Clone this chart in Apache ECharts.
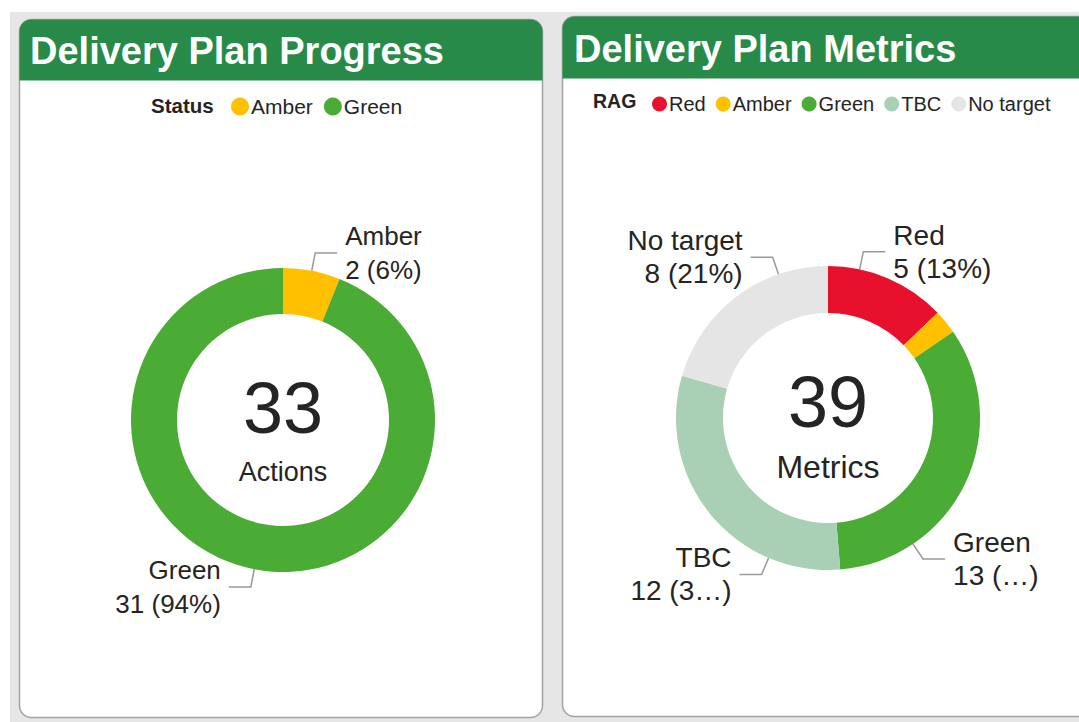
<!DOCTYPE html>
<html>
<head>
<meta charset="utf-8">
<script src="https://cdn.jsdelivr.net/npm/echarts@6/dist/echarts.min.js"></script>
<style>
html,body{margin:0;padding:0;background:#ffffff;}
#chart{width:1079px;height:722px;}
</style>
</head>
<body>
<div id="chart"></div>
<script>
// ---- data ----
const progressTitle = 'Delivery Plan Progress';
const progressLegendTitle = 'Status';
const progressCategories = ['Amber', 'Green'];
const progressValues = [2, 31];
const progressUnit = 'Actions';

const metricsTitle = 'Delivery Plan Metrics';
const metricsLegendTitle = 'RAG';
const metricsCategories = ['Red', 'Amber', 'Green', 'TBC', 'No target'];
const metricsValues = [5, 1, 13, 12, 8];
const metricsUnit = 'Metrics';
// number of percent characters shown before the label is truncated (null = full)
const metricsPctKeep = [null, null, 0, 1, null];
const metricsLabelShown = [true, false, true, true, true];

// ---- styles / layout ----
const FONT = '"Liberation Sans", Arial, sans-serif';
const TEXT = '#252423';
const HEADER = '#288a48';
const colorMap = {
  'Red': '#e8112d',
  'Amber': '#ffc000',
  'Green': '#4aab35',
  'TBC': '#a9cfb4',
  'No target': '#e5e5e5'
};
const L = { cx: 283, cy: 420, r0: 106, r1: 152 };
const Rt = { cx: 828, cy: 418, r0: 105, r1: 152 };
// label anchor angles (degrees clockwise from 12 o'clock) for the right chart
const metricsLabelAngles = [12, null, 146, 203, 341];

function sum(a) { return a.reduce((s, v) => s + v, 0); }
const progressTotal = sum(progressValues);
const metricsTotal = sum(metricsValues);

function midAngles(values) {
  const t = sum(values); let acc = 0;
  return values.map(v => { const m = (acc + v / 2) / t * 360; acc += v; return m; });
}
const progressLabelAngles = midAngles(progressValues);

function makeLabelLayout(g, angles) {
  return function (p) {
    const a = angles[p.dataIndex];
    if (a == null) return {};
    const t = a * Math.PI / 180, s = Math.sin(t), c = Math.cos(t);
    const p0 = [g.cx + g.r1 * s, g.cy - g.r1 * c];
    const p1 = [g.cx + (g.r1 + 18) * s, g.cy - (g.r1 + 18) * c];
    const dir = s >= 0 ? 1 : -1;
    const p2 = [p1[0] + dir * 22, p1[1]];
    return {
      x: p2[0] + dir * 8,
      y: p2[1],
      align: dir > 0 ? 'left' : 'right',
      verticalAlign: 'middle',
      labelLinePoints: [p0, p1, p2]
    };
  };
}

function pct(v, total) { return Math.round(v / total * 100) + '%'; }

function labelStyle(size, lh) {
  return { show: true, position: 'outside', fontFamily: FONT, fontSize: size, lineHeight: lh, color: TEXT };
}
const lineStyle = { show: true, length: 18, length2: 22, lineStyle: { color: '#9a9a9a', width: 1.5 } };

const chart = echarts.init(document.getElementById('chart'), null, { renderer: 'svg' });

const option = {
  animation: false,
  backgroundColor: '#ffffff',
  legend: [
    {
      data: progressCategories,
      left: 231, top: 96,
      padding: 0,
      icon: 'circle', itemWidth: 18, itemHeight: 18, itemGap: 11,
      selectedMode: false,
      textStyle: { fontFamily: FONT, fontSize: 21, color: TEXT, padding: [0, 0, 0, -3] }
    },
    {
      data: metricsCategories,
      left: 652, top: 94,
      padding: 0,
      icon: 'circle', itemWidth: 15, itemHeight: 15, itemGap: 10,
      selectedMode: false,
      textStyle: { fontFamily: FONT, fontSize: 20, color: TEXT, padding: [0, 0, 0, -3] }
    }
  ],
  graphic: [
    { type: 'rect', silent: true, z: -10, shape: { x: 10, y: 12, width: 1100, height: 720 }, style: { fill: '#e6e6e6' } },
    // left panel
    { type: 'rect', silent: true, z: -5, shape: { x: 19.5, y: 19.5, width: 523, height: 698, r: 12 }, style: { fill: '#ffffff', stroke: '#a3a3a3', lineWidth: 1.5 } },
    { type: 'rect', silent: true, z: -4, shape: { x: 19.5, y: 19.5, width: 523, height: 61, r: [12, 12, 0, 0] }, style: { fill: HEADER } },
    { type: 'text', silent: true, style: { text: progressTitle, x: 30, y: 51, verticalAlign: 'middle', fill: '#ffffff', font: 'bold 38px ' + FONT } },
    { type: 'text', silent: true, style: { text: progressLegendTitle, x: 151, y: 105, verticalAlign: 'middle', fill: TEXT, font: 'bold 20.5px ' + FONT } },
    { type: 'text', silent: true, style: { text: String(progressTotal), x: L.cx, y: 408, align: 'center', verticalAlign: 'middle', fill: TEXT, font: '72px ' + FONT } },
    { type: 'text', silent: true, style: { text: progressUnit, x: L.cx, y: 472, align: 'center', verticalAlign: 'middle', fill: TEXT, font: '27px ' + FONT } },
    // right panel
    { type: 'rect', silent: true, z: -5, shape: { x: 562.5, y: 16.5, width: 540, height: 700, r: 12 }, style: { fill: '#ffffff', stroke: '#a3a3a3', lineWidth: 1.5 } },
    { type: 'rect', silent: true, z: -4, shape: { x: 562.5, y: 16.5, width: 540, height: 62, r: [12, 12, 0, 0] }, style: { fill: HEADER } },
    { type: 'text', silent: true, style: { text: metricsTitle, x: 574, y: 49, verticalAlign: 'middle', fill: '#ffffff', font: 'bold 38px ' + FONT } },
    { type: 'text', silent: true, style: { text: metricsLegendTitle, x: 593, y: 101, verticalAlign: 'middle', fill: TEXT, font: 'bold 19.5px ' + FONT } },
    { type: 'text', silent: true, style: { text: String(metricsTotal), x: Rt.cx, y: 402, align: 'center', verticalAlign: 'middle', fill: TEXT, font: '72px ' + FONT } },
    { type: 'text', silent: true, style: { text: metricsUnit, x: Rt.cx, y: 467, align: 'center', verticalAlign: 'middle', fill: TEXT, font: '32px ' + FONT } }
  ],
  series: [
    {
      type: 'pie',
      center: [L.cx, L.cy],
      radius: [L.r0, L.r1],
      startAngle: 90,
      clockwise: true,
      avoidLabelOverlap: false,
      emphasis: { disabled: true },
      itemStyle: { borderWidth: 0 },
      label: Object.assign(labelStyle(26, 34), {
        formatter: p => p.name + '\n' + p.value + ' (' + pct(p.value, progressTotal) + ')'
      }),
      labelLine: lineStyle,
      labelLayout: makeLabelLayout(L, progressLabelAngles),
      data: progressCategories.map((n, i) => ({ name: n, value: progressValues[i], itemStyle: { color: colorMap[n] } }))
    },
    {
      type: 'pie',
      center: [Rt.cx, Rt.cy],
      radius: [Rt.r0, Rt.r1],
      startAngle: 90,
      clockwise: true,
      avoidLabelOverlap: false,
      emphasis: { disabled: true },
      itemStyle: { borderWidth: 0 },
      label: Object.assign(labelStyle(28, 33), {
        formatter: p => {
          let s = pct(p.value, metricsTotal);
          const k = metricsPctKeep[p.dataIndex];
          if (k != null) s = s.slice(0, k) + '\u2026';
          return p.name + '\n' + p.value + ' (' + s + ')';
        }
      }),
      labelLine: lineStyle,
      labelLayout: makeLabelLayout(Rt, metricsLabelAngles),
      data: metricsCategories.map((n, i) => ({
        name: n,
        value: metricsValues[i],
        itemStyle: { color: colorMap[n] },
        label: { show: metricsLabelShown[i] },
        labelLine: { show: metricsLabelShown[i] }
      }))
    }
  ]
};
chart.setOption(option);
</script>
</body>
</html>
